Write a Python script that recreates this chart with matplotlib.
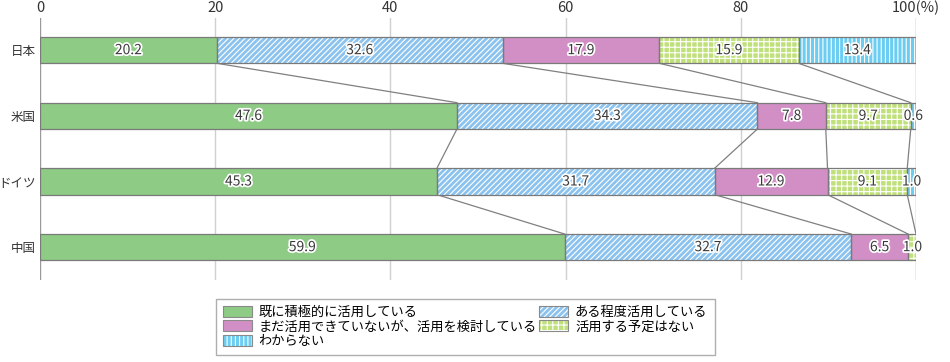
import matplotlib
matplotlib.use("Agg")
import matplotlib.pyplot as plt
import matplotlib.patheffects as pe
from matplotlib.patches import Patch
import numpy as np

plt.rcParams['font.family'] = ['Noto Sans CJK JP', 'DejaVu Sans']
plt.rcParams['hatch.linewidth'] = 0.8

countries = ["日本", "米国", "ドイツ", "中国"]
series_names = ["既に積極的に活用している", "ある程度活用している",
                "まだ活用できていないが、活用を検討している", "活用する予定はない", "わからない"]
v_active = [20.2, 47.6, 45.3, 59.9]
v_some = [32.6, 34.3, 31.7, 32.7]
v_considering = [17.9, 7.8, 12.9, 6.5]
v_noplan = [15.9, 9.7, 9.1, 1.0]
v_unknown = [13.4, 0.6, 1.0, 0.0]
xticks = [0, 20, 40, 60, 80, 100]
xticklabels = ["0", "20", "40", "60", "80", "100(%)"]

series = [v_active, v_some, v_considering, v_noplan, v_unknown]
colors = ["#8ecb85", "#8cc3ee", "#d28fc6", "#bfe07a", "#6ccdf2"]
hatches = [None, "//////", None, "+++", "||||"]

fig = plt.figure(figsize=(9.5, 3.62), dpi=100)
ax = fig.add_axes([40/950, 1-280/362, 876/950, 262/362])

y = np.arange(len(countries))
h = 0.4
left = np.zeros(len(countries))
for vals, c, ht in zip(series, colors, hatches):
    vals = np.array(vals)
    ax.barh(y, vals, left=left, height=h, color=c, edgecolor="white" if ht else c,
            hatch=ht, linewidth=0, zorder=3)
    ax.barh(y, vals, left=left, height=h, fill=False, edgecolor="#7a7a7a",
            linewidth=0.9, zorder=4)
    for yi, (l, v) in enumerate(zip(left, vals)):
        if v > 0:
            ax.text(l + v/2, yi, f"{v:.1f}", ha="center", va="center", fontsize=10,
                    color="#3a3a3a", zorder=6,
                    path_effects=[pe.withStroke(linewidth=2.5, foreground="white")])
    left = left + vals

cum = np.cumsum(np.array(series), axis=0)
cum = np.minimum(cum, 100)
for i in range(len(countries) - 1):
    for j in range(len(series) - 1):
        ax.plot([cum[j, i], cum[j, i+1]], [i + h/2, i + 1 - h/2], color="#808080",
                lw=0.9, zorder=2)

ax.set_xlim(0, 100)
ax.set_ylim(3.5, -0.49)
ax.set_yticks(y)
ax.set_yticklabels(countries, fontsize=9, color="#333333")
ax.set_xticks(xticks)
ax.set_xticklabels(xticklabels, fontsize=10.5, color="#333333")
ax.xaxis.tick_top()
ax.tick_params(length=0, pad=2)
ax.tick_params(axis="y", pad=3)
for s in ax.spines.values():
    s.set_visible(False)
for xv in xticks:
    col = "#9a9a9a" if xv in (0, 100) else "#d0d0d0"
    ax.axvline(xv, color=col, lw=1.0, zorder=1)

order = [0, 2, 4, 1, 3]
handles = []
for k in order:
    fillp = Patch(facecolor=colors[k], edgecolor="white" if hatches[k] else colors[k],
                  hatch=hatches[k], linewidth=0)
    edgep = Patch(fill=False, edgecolor="#8a8a8a", linewidth=0.8)
    handles.append((fillp, edgep))
labels = [series_names[k] for k in order]
leg = fig.legend(handles, labels, loc="upper left", bbox_to_anchor=(209/950, 1-292/362),
                 ncol=2, fontsize=9.5, frameon=True, fancybox=False, edgecolor="#9a9a9a",
                 handlelength=2.2, handleheight=0.9, handletextpad=0.5, columnspacing=0.2,
                 labelspacing=0.12, borderpad=0.55)
leg.get_frame().set_linewidth(1.0)

fig.savefig("out.png", dpi=100)
